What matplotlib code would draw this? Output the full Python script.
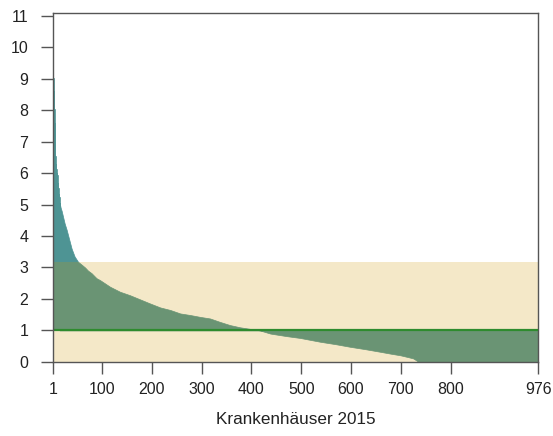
import numpy as np
import matplotlib
matplotlib.use("Agg")
from matplotlib import pyplot as plt

# sorted ratio per hospital (hospital rank, value)
rank = [1, 2, 3, 4, 5, 6, 7, 8, 9, 10, 11, 12, 13, 14, 15, 17, 19, 22, 25, 29,
        34, 39, 45, 52, 60, 66, 72, 79, 89, 96, 116, 136, 156, 176, 196, 217,
        237, 257, 277, 297, 317, 337, 357, 377, 397, 417, 438, 470, 498, 538,
        570, 598, 630, 659, 680, 699, 715, 725, 731, 735, 976]
value = [9.3, 9.0, 8.6, 8.0, 7.6, 6.5, 6.3, 6.1, 6.0, 5.9, 5.7, 5.5, 5.35, 5.2,
         5.05, 4.9, 4.8, 4.6, 4.4, 4.2, 3.9, 3.6, 3.35, 3.18, 3.08, 3.0, 2.9,
         2.82, 2.66, 2.6, 2.39, 2.23, 2.12, 1.99, 1.86, 1.73, 1.65, 1.54, 1.49,
         1.43, 1.38, 1.27, 1.17, 1.1, 1.05, 1.0, 0.9, 0.82, 0.76, 0.64, 0.56,
         0.48, 0.4, 0.32, 0.26, 0.21, 0.15, 0.11, 0.05, 0.0, 0.0]

ref_value = 1.0
band_top = 3.17
n_hosp = 976
n_head = 15  # the first few hospitals are drawn as single bars

xticks = [1, 100, 200, 300, 400, 500, 600, 700, 800, 976]
yticks = list(range(0, 12))

plt.rcParams['font.family'] = ['Liberation Sans', 'DejaVu Sans']

fig = plt.figure(figsize=(5.53, 4.36), dpi=100)
ax = fig.add_axes([0.0953, 0.170, 0.878, 0.801])

# deviation from 1 drawn as area
teal = "#4e9494"
head_r = np.array(rank[:n_head])
head_v = np.array(value[:n_head])
ax.bar(head_r, head_v - ref_value, bottom=ref_value, width=1, align='edge',
       color=teal, edgecolor=teal, lw=1.2, zorder=1)
ax.fill_between(rank[n_head - 1:], ref_value, value[n_head - 1:],
                color=teal, lw=0.5, edgecolor=teal, zorder=1)
# tolerance band overlay
ax.fill_between([1, n_hosp], 0, band_top, color=(208/255, 152/255, 4/255),
                alpha=0.215, lw=0, zorder=2)
ax.axhline(ref_value, color="#2e8b2e", lw=1.6, zorder=3)

ax.set_xlim(1, n_hosp)
ax.set_ylim(0, 11.1)
ax.set_xticks(xticks)
ax.set_yticks(yticks)
ax.tick_params(length=8.5, width=1, color="#555555", labelsize=11.5,
               labelcolor="#222222")
ax.tick_params(axis='y', pad=9)
ax.tick_params(axis='x', pad=6)
for s in ax.spines.values():
    s.set_color("#555555")
    s.set_linewidth(1)
ax.spines['left'].set_zorder(5)

ax.set_xlabel("Krankenhäuser 2015", fontsize=12.3, color="#222222", labelpad=11)

fig.savefig("out.png", dpi=100)
